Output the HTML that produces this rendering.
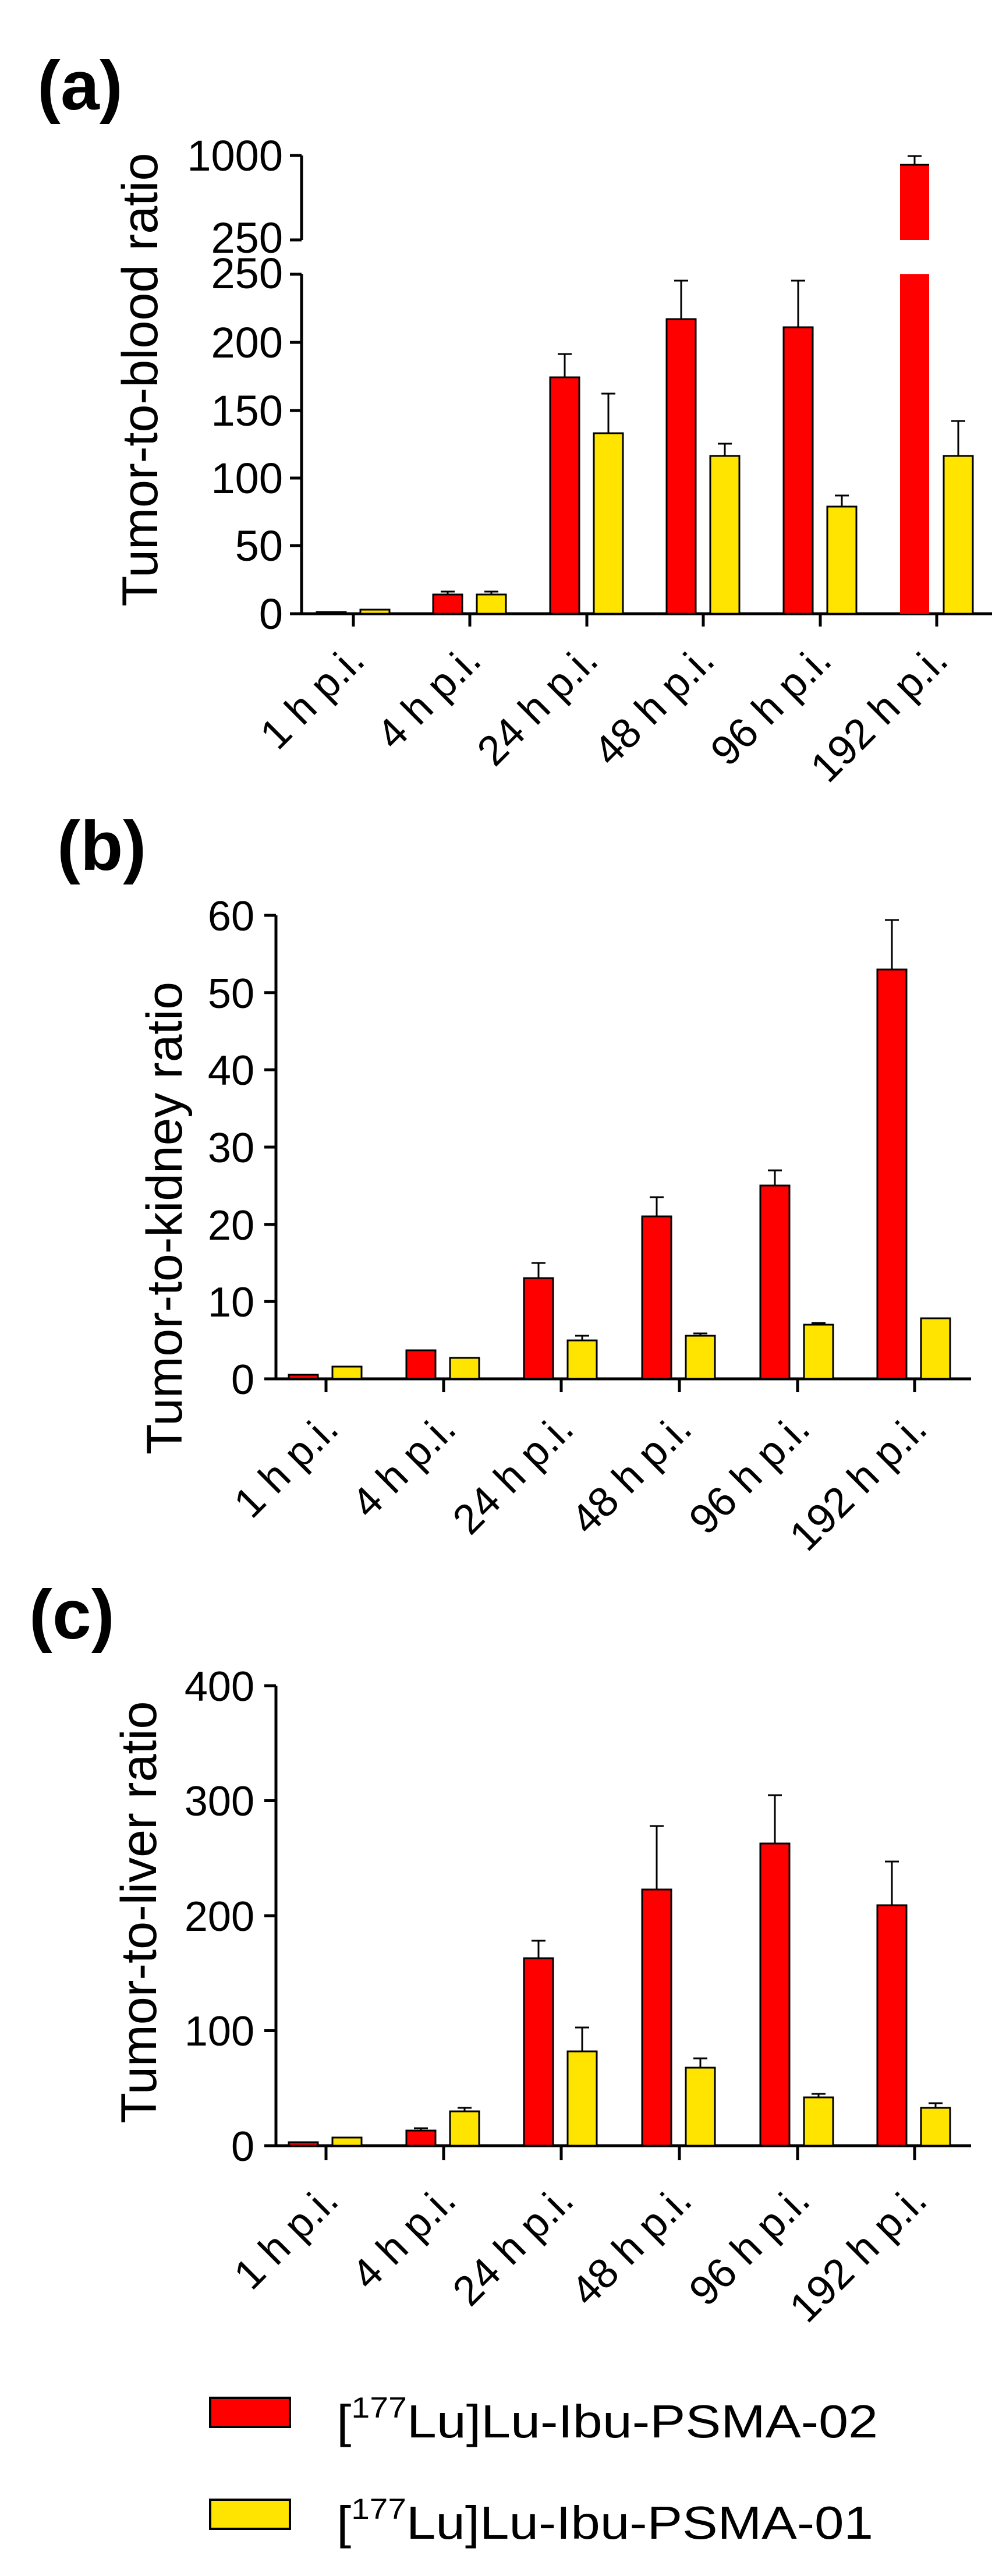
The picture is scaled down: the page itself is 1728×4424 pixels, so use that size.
<!DOCTYPE html>
<html><head><meta charset="utf-8"><style>
html,body{margin:0;padding:0;background:#fff}
svg{display:block}
text{font-family:"Liberation Sans",Arial,sans-serif;fill:#000}
</style></head><body>
<svg width="1728" height="4424" viewBox="0 0 1728 4424" xmlns="http://www.w3.org/2000/svg">
<!-- Panel a -->
<text x="64" y="188" font-size="120" font-weight="bold">(a)</text>
<g stroke="#000" stroke-width="5" fill="none">
<line x1="518" y1="267" x2="518" y2="412"/>
<line x1="518" y1="471" x2="518" y2="1056"/>
<line x1="498" y1="267" x2="518" y2="267"/>
<line x1="498" y1="412" x2="518" y2="412"/>
<line x1="498" y1="471" x2="518" y2="471"/>
<line x1="498" y1="588" x2="518" y2="588"/>
<line x1="498" y1="705" x2="518" y2="705"/>
<line x1="498" y1="821" x2="518" y2="821"/>
<line x1="498" y1="937" x2="518" y2="937"/>
<line x1="498" y1="1054" x2="1704" y2="1054"/>
<line x1="607" y1="1054" x2="607" y2="1076"/>
<line x1="807" y1="1054" x2="807" y2="1076"/>
<line x1="1008" y1="1054" x2="1008" y2="1076"/>
<line x1="1208" y1="1054" x2="1208" y2="1076"/>
<line x1="1409" y1="1054" x2="1409" y2="1076"/>
<line x1="1609" y1="1054" x2="1609" y2="1076"/>
</g>
<g font-size="74" text-anchor="end">
<text x="486" y="293">1000</text>
<text x="486" y="434">250</text>
<text x="486" y="495">250</text>
<text x="486" y="614">200</text>
<text x="486" y="731">150</text>
<text x="486" y="847">100</text>
<text x="486" y="963">50</text>
<text x="486" y="1080">0</text>
</g>
<text transform="translate(270,652) rotate(-90)" font-size="86" text-anchor="middle" textLength="779" lengthAdjust="spacingAndGlyphs">Tumor-to-blood ratio</text>
<g stroke="#000" stroke-width="3">
<rect x="544" y="1051" width="50" height="3" fill="#f00"/>
<rect x="744" y="1021" width="50" height="33" fill="#f00"/>
<rect x="945" y="648" width="50" height="406" fill="#f00"/>
<rect x="1145" y="548" width="50" height="506" fill="#f00"/>
<rect x="1346" y="562" width="50" height="492" fill="#f00"/>
<rect x="1546" y="471" width="50" height="583" fill="#f00" stroke="none"/>
<rect x="1546" y="283" width="50" height="129" fill="#f00" stroke="none"/>
<line x1="1546" y1="283" x2="1596" y2="283"/>
<rect x="619" y="1047" width="50" height="7" fill="#ffe400"/>
<rect x="819" y="1021" width="50" height="33" fill="#ffe400"/>
<rect x="1020" y="744" width="50" height="310" fill="#ffe400"/>
<rect x="1220" y="783" width="50" height="271" fill="#ffe400"/>
<rect x="1421" y="870" width="50" height="184" fill="#ffe400"/>
<rect x="1621" y="783" width="50" height="271" fill="#ffe400"/>
</g>
<path stroke="#000" stroke-width="3" fill="none" d="
M769 1021V1016M757 1016H781
M970 648V608M958 608H982
M1170 548V482M1158 482H1182
M1371 562V482M1359 482H1383
M1571 283V268M1559 268H1583
M844 1021V1016M832 1016H856
M1045 744V676M1033 676H1057
M1245 783V762M1233 762H1257
M1446 870V851M1434 851H1458
M1646 783V723M1634 723H1658"/>
<g font-size="72" text-anchor="end">
<text transform="translate(630,1138) rotate(-45)">1 h p.i.</text>
<text transform="translate(830,1138) rotate(-45)">4 h p.i.</text>
<text transform="translate(1031,1138) rotate(-45)">24 h p.i.</text>
<text transform="translate(1231,1138) rotate(-45)">48 h p.i.</text>
<text transform="translate(1432,1138) rotate(-45)">96 h p.i.</text>
<text transform="translate(1632,1138) rotate(-45)">192 h p.i.</text>
</g>

<!-- Panel b -->
<text x="98" y="1494" font-size="120" font-weight="bold">(b)</text>
<g stroke="#000" stroke-width="5" fill="none">
<line x1="474" y1="1572" x2="474" y2="2370"/>
<line x1="454" y1="1572" x2="474" y2="1572"/>
<line x1="454" y1="1704.7" x2="474" y2="1704.7"/>
<line x1="454" y1="1837.3" x2="474" y2="1837.3"/>
<line x1="454" y1="1970" x2="474" y2="1970"/>
<line x1="454" y1="2102.7" x2="474" y2="2102.7"/>
<line x1="454" y1="2235.3" x2="474" y2="2235.3"/>
<line x1="454" y1="2368" x2="1668" y2="2368"/>
<line x1="560" y1="2368" x2="560" y2="2391"/>
<line x1="762" y1="2368" x2="762" y2="2391"/>
<line x1="964" y1="2368" x2="964" y2="2391"/>
<line x1="1167" y1="2368" x2="1167" y2="2391"/>
<line x1="1370" y1="2368" x2="1370" y2="2391"/>
<line x1="1571" y1="2368" x2="1571" y2="2391"/>
</g>
<g font-size="72" text-anchor="end">
<text x="437" y="1598">60</text>
<text x="437" y="1731">50</text>
<text x="437" y="1863">40</text>
<text x="437" y="1996">30</text>
<text x="437" y="2129">20</text>
<text x="437" y="2261">10</text>
<text x="437" y="2394">0</text>
</g>
<text transform="translate(312,2092) rotate(-90)" font-size="86" text-anchor="middle" textLength="812" lengthAdjust="spacingAndGlyphs">Tumor-to-kidney ratio</text>
<g stroke="#000" stroke-width="3">
<rect x="496" y="2361" width="50" height="7" fill="#f00"/>
<rect x="698" y="2319" width="50" height="49" fill="#f00"/>
<rect x="900" y="2195" width="50" height="173" fill="#f00"/>
<rect x="1103" y="2089" width="50" height="279" fill="#f00"/>
<rect x="1306" y="2036" width="50" height="332" fill="#f00"/>
<rect x="1507" y="1665" width="50" height="703" fill="#f00"/>
<rect x="571" y="2347" width="50" height="21" fill="#ffe400"/>
<rect x="773" y="2332" width="50" height="36" fill="#ffe400"/>
<rect x="975" y="2302" width="50" height="66" fill="#ffe400"/>
<rect x="1178" y="2294" width="50" height="74" fill="#ffe400"/>
<rect x="1381" y="2275" width="50" height="93" fill="#ffe400"/>
<rect x="1582" y="2264" width="50" height="104" fill="#ffe400"/>
</g>
<path stroke="#000" stroke-width="3" fill="none" d="
M925 2195V2169M913 2169H937
M1128 2089V2056M1116 2056H1140
M1331 2036V2010M1319 2010H1343
M1532 1665V1580M1520 1580H1544
M1000 2302V2294M988 2294H1012
M1203 2294V2290M1191 2290H1215
M1406 2275V2272M1394 2272H1418"/>
<g font-size="72" text-anchor="end">
<text transform="translate(585,2458) rotate(-45)">1 h p.i.</text>
<text transform="translate(787,2458) rotate(-45)">4 h p.i.</text>
<text transform="translate(989,2458) rotate(-45)">24 h p.i.</text>
<text transform="translate(1192,2458) rotate(-45)">48 h p.i.</text>
<text transform="translate(1395,2458) rotate(-45)">96 h p.i.</text>
<text transform="translate(1596,2458) rotate(-45)">192 h p.i.</text>
</g>

<!-- Panel c -->
<text x="50" y="2814" font-size="120" font-weight="bold">(c)</text>
<g stroke="#000" stroke-width="5" fill="none">
<line x1="474" y1="2895" x2="474" y2="3687"/>
<line x1="454" y1="2895" x2="474" y2="2895"/>
<line x1="454" y1="3092.5" x2="474" y2="3092.5"/>
<line x1="454" y1="3290" x2="474" y2="3290"/>
<line x1="454" y1="3487.5" x2="474" y2="3487.5"/>
<line x1="454" y1="3685" x2="1668" y2="3685"/>
<line x1="560" y1="3685" x2="560" y2="3710"/>
<line x1="762" y1="3685" x2="762" y2="3710"/>
<line x1="964" y1="3685" x2="964" y2="3710"/>
<line x1="1167" y1="3685" x2="1167" y2="3710"/>
<line x1="1370" y1="3685" x2="1370" y2="3710"/>
<line x1="1571" y1="3685" x2="1571" y2="3710"/>
</g>
<g font-size="72" text-anchor="end">
<text x="437" y="2921">400</text>
<text x="437" y="3118">300</text>
<text x="437" y="3316">200</text>
<text x="437" y="3513">100</text>
<text x="437" y="3711">0</text>
</g>
<text transform="translate(268,3284) rotate(-90)" font-size="86" text-anchor="middle" textLength="725" lengthAdjust="spacingAndGlyphs">Tumor-to-liver ratio</text>
<g stroke="#000" stroke-width="3">
<rect x="496" y="3679" width="50" height="6" fill="#f00"/>
<rect x="698" y="3659" width="50" height="26" fill="#f00"/>
<rect x="900" y="3363" width="50" height="322" fill="#f00"/>
<rect x="1103" y="3245" width="50" height="440" fill="#f00"/>
<rect x="1306" y="3166" width="50" height="519" fill="#f00"/>
<rect x="1507" y="3272" width="50" height="413" fill="#f00"/>
<rect x="571" y="3671" width="50" height="14" fill="#ffe400"/>
<rect x="773" y="3626" width="50" height="59" fill="#ffe400"/>
<rect x="975" y="3523" width="50" height="162" fill="#ffe400"/>
<rect x="1178" y="3551" width="50" height="134" fill="#ffe400"/>
<rect x="1381" y="3602" width="50" height="83" fill="#ffe400"/>
<rect x="1582" y="3620" width="50" height="65" fill="#ffe400"/>
</g>
<path stroke="#000" stroke-width="3" fill="none" d="
M723 3659V3655M711 3655H735
M925 3363V3333M913 3333H937
M1128 3245V3136M1116 3136H1140
M1331 3166V3083M1319 3083H1343
M1532 3272V3197M1520 3197H1544
M798 3626V3620M786 3620H810
M1000 3523V3482M988 3482H1012
M1203 3551V3535M1191 3535H1215
M1406 3602V3596M1394 3596H1418
M1607 3620V3612M1595 3612H1619"/>
<g font-size="72" text-anchor="end">
<text transform="translate(585,3783) rotate(-45)">1 h p.i.</text>
<text transform="translate(787,3783) rotate(-45)">4 h p.i.</text>
<text transform="translate(989,3783) rotate(-45)">24 h p.i.</text>
<text transform="translate(1192,3783) rotate(-45)">48 h p.i.</text>
<text transform="translate(1395,3783) rotate(-45)">96 h p.i.</text>
<text transform="translate(1596,3783) rotate(-45)">192 h p.i.</text>
</g>

<!-- Legend -->
<rect x="361" y="4118" width="137" height="50" fill="#f00" stroke="#000" stroke-width="4"/>
<rect x="361" y="4293" width="137" height="50" fill="#ffe400" stroke="#000" stroke-width="4"/>
<text x="578" y="4186" font-size="80" textLength="930" lengthAdjust="spacingAndGlyphs">[<tspan font-size="50" dy="-34">177</tspan><tspan dy="34">Lu]Lu-Ibu-PSMA-02</tspan></text>
<text x="578" y="4360" font-size="80" textLength="922" lengthAdjust="spacingAndGlyphs">[<tspan font-size="50" dy="-34">177</tspan><tspan dy="34">Lu]Lu-Ibu-PSMA-01</tspan></text>
</svg>
</body></html>
